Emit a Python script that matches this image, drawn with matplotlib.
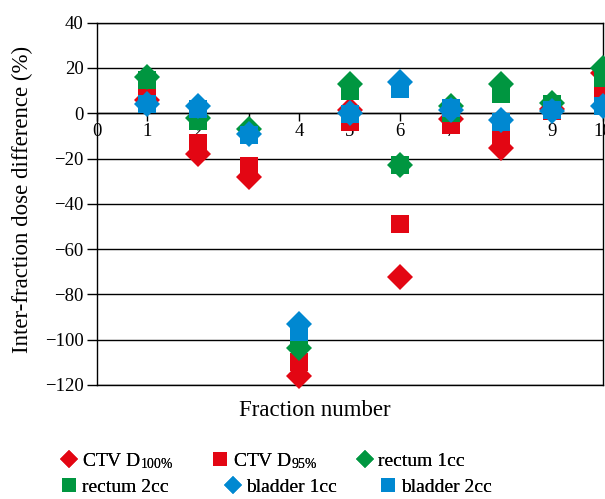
import matplotlib
matplotlib.use('Agg')
import matplotlib.pyplot as plt

plt.rcParams['font.family'] = ['Liberation Serif', 'DejaVu Serif']
plt.rcParams['mathtext.default'] = 'regular'

fractions = [1, 2, 3, 4, 5, 6, 7, 8, 9, 10]
ctv_d100 = [6, -18, -28, -116, 1.5, -72.5, -2.5, -15.5, 2, 18]
ctv_d95 = [8, -13, -23.5, -110, -4, -49, -5, -11, 1, 11]
rectum_1cc = [16, -2, -7, -103.5, 13, -23, 3, 13, 4.5, 20]
rectum_2cc = [14.5, -3.5, -9, -101, 10, -23, 0.2, 8.6, 4, 15.4]
bladder_1cc = [4, 3, -9, -93, 0.3, 14, 1.5, -3, 1, 3]
bladder_2cc = [4, 1.7, -9.6, -96.5, -0.5, 10.5, 2.4, -4, 1.5, 3.2]

red = '#e30613'
green = '#009640'
blue = '#0088d1'

series = [
    ('CTV D$_{100\\%}$', ctv_d100, 'D', red),
    ('CTV D$_{95\\%}$', ctv_d95, 's', red),
    ('rectum 1cc', rectum_1cc, 'D', green),
    ('rectum 2cc', rectum_2cc, 's', green),
    ('bladder 1cc', bladder_1cc, 'D', blue),
    ('bladder 2cc', bladder_2cc, 's', blue),
]
# legend entry anchors (pixels): left of handle box, row centre
legend_pos = [(61, 461), (212, 461), (357, 461),
              (61, 487), (225, 487), (380, 487)]

fig = plt.figure(figsize=(6.05, 4.99), dpi=100)
ax = fig.add_axes([0.160, 0.2285, 0.836, 0.726])

handles = []
for label, vals, mk, col in series:
    ms = 13.5 if mk == 'D' else 12.7
    ax.plot(fractions, vals, linestyle='none', marker=mk, markersize=ms,
            color=col, markeredgewidth=0, clip_on=False, zorder=3)
    h, = ax.plot([], [], linestyle='none', marker=mk,
                 markersize=9 if mk == 'D' else 10, color=col,
                 markeredgewidth=0, label=label)
    handles.append(h)

ax.set_xlim(0, 10)
ax.set_ylim(-120, 40)
ax.set_yticks(range(-120, 41, 20))
ax.set_xticks(range(0, 11))
ax.yaxis.grid(True, color='black', linewidth=1.0)
ax.set_axisbelow(True)
ax.axhline(-120, color='black', linewidth=1.0, clip_on=False)

ax.spines['bottom'].set_position(('data', 0))
for s in ax.spines.values():
    s.set_linewidth(1.0)
ax.tick_params(axis='y', direction='out', length=7.5, width=1, labelsize=13.5, pad=2)
ax.tick_params(axis='x', direction='out', length=6, width=1, labelsize=13.5, pad=1)

ax.set_ylabel('Inter-fraction dose difference (%)', fontsize=16.5)
ax.yaxis.set_label_coords(-0.127, 0.513)
fig.text(315 / 605, 1 - 411 / 499, 'Fraction number', fontsize=16.5,
         ha='center', va='center')

for h, (px, py) in zip(handles, legend_pos):
    leg = fig.legend(handles=[h], frameon=False, loc='center left',
                     bbox_to_anchor=(px / 605, 1 - py / 499),
                     fontsize=14, borderpad=0, borderaxespad=0,
                     handlelength=0.8, handletextpad=0.3)
    fig.add_artist(leg)

fig.savefig('out.png', dpi=100)
